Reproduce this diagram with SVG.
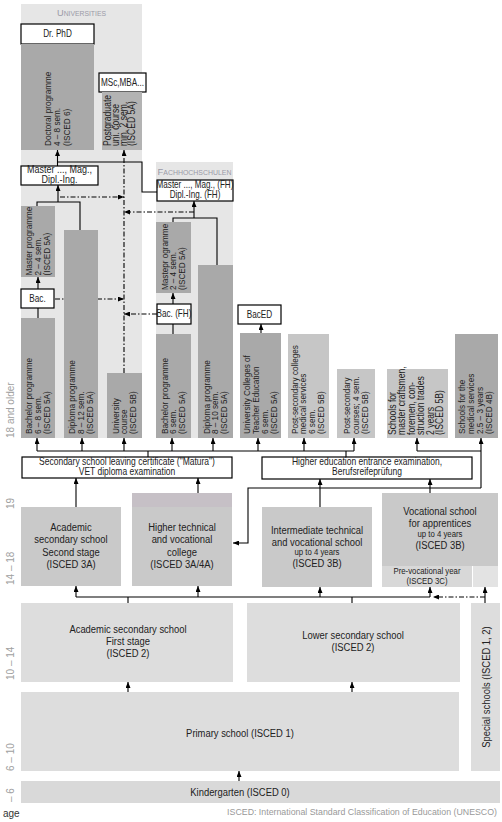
<svg xmlns="http://www.w3.org/2000/svg" width="502" height="822" viewBox="0 0 502 822">
<defs>
<marker id="ah" viewBox="0 0 6 5" refX="6" refY="2.5" markerWidth="6" markerHeight="5" markerUnits="userSpaceOnUse" orient="auto"><path d="M0,0 L6,2.5 L0,5 z" fill="#000"/></marker>
<style>
.panel{fill:#e6e6e6}
.bar{fill:#a9a9a9}
.pg{fill:#b3b3b3}
.ps{fill:#c6c6c6}
.sec{fill:#c9c9c9}
.low{fill:#dddddd}
.box{fill:#fff;stroke:#000;stroke-width:1.2}
.t{font-family:"Liberation Sans",Arial,sans-serif;fill:#222;font-size:10px}
.r{font-size:9.5px}
.tm{text-anchor:middle}
.big{font-size:11.5px}
.sm{font-size:9.5px}
.c{stroke:#000;stroke-width:1.1;fill:none}
.a{marker-end:url(#ah)}
.dd{stroke-dasharray:5 2 1.5 2}
.age{font-family:"Liberation Sans",Arial,sans-serif;font-size:10px;fill:#a0a0a0}
.lab{font-family:"Liberation Sans",Arial,sans-serif;fill:#9a9aa6}
</style>
</defs>

<g id="panels">
<rect class="panel" x="21" y="4" width="121" height="434"/>
<text class="lab" x="57" y="15.5" textLength="49" lengthAdjust="spacingAndGlyphs"><tspan font-size="9.5">U</tspan><tspan font-size="7">NIVERSITIES</tspan></text>
<rect class="panel" x="156" y="162" width="77" height="276"/>
<text class="lab" x="157.5" y="174.5" textLength="74" lengthAdjust="spacingAndGlyphs"><tspan font-size="9.5">F</tspan><tspan font-size="7">ACHHOCHSCHULEN</tspan></text>
</g>

<g id="connectors">
<path class="c a" d="M57.5,166 V150"/>
<path class="c" d="M57.5,162 H142 V192 H157"/>
<path class="c a" d="M58,202 V185"/>
<path class="c" d="M37,206 V202 H80 V230"/>
<path class="c a" d="M38,289 V277"/>
<path class="c" d="M38,308 V318"/>
<path class="c a" d="M194,218 V201"/>
<path class="c" d="M173,222 V218 H217 V265"/>
<path class="c a" d="M173,304 V293"/>
<path class="c" d="M173,324 V334"/>
<path class="c a" d="M261,333 V324"/>
<path class="c" d="M37,451 H354 M148,457 V451 M346,457 V451"/>
<path class="c a" d="M37,451 V438"/>
<path class="c a" d="M82,451 V438"/>
<path class="c a" d="M124,451 V438"/>
<path class="c a" d="M172,451 V438"/>
<path class="c a" d="M213,451 V438"/>
<path class="c a" d="M258,451 V438"/>
<path class="c a" d="M304,451 V438"/>
<path class="c a" d="M354,451 V438"/>
<path class="c a" d="M417,451 V438"/>
<path class="c" d="M417,451 H481"/>
<path class="c a" d="M481,488 V438"/>
<path class="c a" d="M481,488 H248 V543 H233"/>
<path class="c a" d="M76,507 V478"/>
<path class="c a" d="M198,493 V478"/>
<path class="c a" d="M320,507 V479"/>
<path class="c a" d="M430,493 V479"/>
<path class="c" d="M76,597 H430 M128,603 V597 M352,603 V597"/>
<path class="c a" d="M76,597 V586"/>
<path class="c a" d="M198,597 V586"/>
<path class="c a" d="M320,597 V587"/>
<path class="c a" d="M430,597 V587"/>
<path class="c a" d="M485,603 V587"/>
<path class="c a" d="M128,692 V682"/>
<path class="c a" d="M352,692 V682"/>
<path class="c a" d="M239,781 V771"/>
<path class="c a dd" d="M124,373 V150"/>
<path class="c a dd" d="M60,197 H124"/>
<path class="c a dd" d="M55,299 H124"/>
<path class="c a dd" d="M194,212 H124"/>
<path class="c a dd" d="M157,314 H124"/>
<path class="c a dd" d="M485,597 H433"/>
</g>

<g id="drphd"><rect class="box" x="21" y="24" width="73" height="20"/><text class="t tm" transform="translate(57.5,0) scale(0.82,1)" x="0" y="37.5">Dr. PhD</text></g>
<g id="doctoral"><rect class="bar" x="21" y="44" width="73" height="106"/>
<text class="t r" transform="translate(51,146) rotate(-90) scale(0.86,1)"><tspan x="0" y="0">Doctoral programme</tspan><tspan x="0" y="9.5">4 – 8 sem.</tspan><tspan x="0" y="19">(ISCED 6)</tspan></text></g>
<g id="msc"><rect class="box" x="99" y="73" width="47" height="19"/><text class="t tm" transform="translate(122.5,0) scale(0.82,1)" x="0" y="86">MSc,MBA...</text></g>
<g id="postgrad"><rect class="pg" x="102" y="92" width="40" height="58"/>
<text class="t" font-size="9" transform="translate(110.5,146) rotate(-90) scale(0.86,1)"><tspan x="0" y="0">Postgraduate</tspan><tspan x="0" y="8.3">uni. course</tspan><tspan x="0" y="16.6">min. 2 sem.</tspan><tspan x="0" y="24.9">(ISCED 5A)</tspan></text></g>
<g id="master-uni"><rect class="box" x="21" y="166" width="77" height="19"/><text class="t tm" font-size="7.4" transform="translate(59.5,0) scale(0.9,1)"><tspan x="0" y="172.9">Master ..., Mag.,</tspan><tspan x="0" y="183.2">Dipl.-Ing.</tspan></text></g>
<g id="master-prog"><rect class="bar" x="21" y="206" width="34" height="71"/>
<text class="t r" transform="translate(32,275.5) rotate(-90) scale(0.86,1)"><tspan x="0" y="0">Master programme</tspan><tspan x="0" y="9">2 – 4 sem.</tspan><tspan x="0" y="18">(ISCED 5A)</tspan></text></g>
<g id="bac"><rect class="box" x="21" y="289" width="33" height="19"/><text class="t tm" transform="translate(37.5,0) scale(0.82,1)" x="0" y="302">Bac.</text></g>
<g id="bachelor-uni"><rect class="bar" x="21" y="318" width="34" height="120"/>
<text class="t r" transform="translate(32,434) rotate(-90) scale(0.86,1)"><tspan x="0" y="0">Bachelor programme</tspan><tspan x="0" y="9">6 – 8 sem.</tspan><tspan x="0" y="18">(ISCED 5A)</tspan></text></g>
<g id="diploma-uni"><rect class="bar" x="64" y="230" width="34" height="208"/>
<text class="t r" transform="translate(75,434) rotate(-90) scale(0.86,1)"><tspan x="0" y="0">Diploma programme</tspan><tspan x="0" y="9">8 – 12 sem.</tspan><tspan x="0" y="18">(ISCED 5A)</tspan></text></g>
<g id="uni-course"><rect class="bar" x="107" y="373" width="35" height="65"/>
<text class="t r" transform="translate(118.5,434) rotate(-90) scale(0.86,1)"><tspan x="0" y="0">University</tspan><tspan x="0" y="9">course</tspan><tspan x="0" y="18">(ISCED 5B)</tspan></text></g>

<g id="master-fh"><rect class="box" x="157" y="180" width="76" height="21"/><text class="t tm" font-size="8.3" transform="translate(195,0) scale(0.81,1)"><tspan x="0" y="188.4">Master ..., Mag., (FH)</tspan><tspan x="0" y="197.8">Dipl.-Ing. (FH)</tspan></text></g>
<g id="master-prog-fh"><rect class="bar" x="156" y="222" width="35" height="71"/>
<text class="t r" transform="translate(167.5,290) rotate(-90) scale(0.86,1)"><tspan x="0" y="0">Mastepr ogramme</tspan><tspan x="0" y="9">2 – 4 sem.</tspan><tspan x="0" y="18">(ISCED 5A)</tspan></text></g>
<g id="bac-fh"><rect class="box" x="157" y="304" width="34" height="20"/><text class="t tm" transform="translate(174,0) scale(0.82,1)" x="0" y="317.5">Bac. (FH)</text></g>
<g id="bachelor-fh"><rect class="bar" x="156" y="334" width="35" height="104"/>
<text class="t r" transform="translate(167.5,434) rotate(-90) scale(0.86,1)"><tspan x="0" y="0">Bachelor programme</tspan><tspan x="0" y="9">6 sem.</tspan><tspan x="0" y="18">(ISCED 5A)</tspan></text></g>
<g id="diploma-fh"><rect class="bar" x="198" y="265" width="35" height="173"/>
<text class="t r" transform="translate(209.5,434) rotate(-90) scale(0.86,1)"><tspan x="0" y="0">Diploma programme</tspan><tspan x="0" y="9">8 – 10 sem.</tspan><tspan x="0" y="18">(ISCED 5A)</tspan></text></g>

<g id="baced"><rect class="box" x="238" y="305" width="43" height="19"/><text class="t tm" transform="translate(259.5,0) scale(0.82,1)" x="0" y="318">BacED</text></g>
<g id="uc-teacher"><rect class="bar" x="240" y="333" width="41" height="105"/>
<text class="t r" transform="translate(250,434) rotate(-90) scale(0.86,1)"><tspan x="0" y="0">University Colleges of</tspan><tspan x="0" y="9">Teacher Education</tspan><tspan x="0" y="18">6 sem.</tspan><tspan x="0" y="27">(ISCED 5A)</tspan></text></g>
<g id="ps-medical"><rect class="ps" x="288" y="334" width="41" height="104"/>
<text class="t r" transform="translate(297.5,434) rotate(-90) scale(0.86,1)"><tspan x="0" y="0">Post-secondary colleges</tspan><tspan x="0" y="9">medical services</tspan><tspan x="0" y="18">6 sem.</tspan><tspan x="0" y="27">(ISCED 5B)</tspan></text></g>
<g id="ps-courses"><rect class="ps" x="337" y="369" width="38" height="69"/>
<text class="t r" transform="translate(350,434) rotate(-90) scale(0.86,1)"><tspan x="0" y="0">Post-secondary</tspan><tspan x="0" y="9">courses; 4 sem.</tspan><tspan x="0" y="18">(ISCED 5B)</tspan></text></g>
<g id="craftsmen"><rect class="ps" x="387" y="369" width="61" height="69"/>
<text class="t" font-size="9" transform="translate(396,435) rotate(-90) scale(0.86,1)"><tspan x="0" y="0">Schools for</tspan><tspan x="0" y="9.5">master craftsmen,</tspan><tspan x="0" y="19">foremen, con-</tspan><tspan x="0" y="28.5">struction trades</tspan><tspan x="0" y="38">2 years</tspan><tspan x="0" y="47.5">(ISCED 5B)</tspan></text></g>
<g id="med-school"><rect class="bar" x="455" y="334" width="43" height="104"/>
<text class="t r" transform="translate(465,434) rotate(-90) scale(0.86,1)"><tspan x="0" y="0">Schools for the</tspan><tspan x="0" y="9">medical services</tspan><tspan x="0" y="18">2.5 – 3 years</tspan><tspan x="0" y="27">(ISCED 4B)</tspan></text></g>

<g id="matura"><rect class="box" x="22" y="457" width="210" height="21"/><text class="t tm" font-size="8" transform="translate(127,0) scale(0.85,1)"><tspan x="0" y="465.5">Secondary school leaving certificate ("Matura")</tspan><tspan x="0" y="475.5">VET diploma examination</tspan></text></g>
<g id="he-exam"><rect class="box" x="262" y="457" width="210" height="22"/><text class="t tm" font-size="8" transform="translate(367,0) scale(0.85,1)"><tspan x="0" y="465.5">Higher education entrance examination,</tspan><tspan x="0" y="475.5">Berufsreifeprüfung</tspan></text></g>

<g id="ahs-upper"><rect class="sec" x="21" y="507" width="100" height="79"/>
<text class="t tm big" transform="translate(71,0) scale(0.82,1)"><tspan x="0" y="531">Academic</tspan><tspan x="0" y="543.5">secondary school</tspan><tspan x="0" y="556">Second stage</tspan><tspan x="0" y="568.5">(ISCED 3A)</tspan></text></g>
<g id="htl"><rect fill="#c6c0c6" x="132" y="493" width="100" height="14"/><rect class="sec" x="132" y="507" width="100" height="79"/>
<text class="t tm big" transform="translate(182,0) scale(0.82,1)"><tspan x="0" y="531">Higher technical</tspan><tspan x="0" y="543.5">and vocational</tspan><tspan x="0" y="556">college</tspan><tspan x="0" y="568.5">(ISCED 3A/4A)</tspan></text></g>
<g id="intermediate"><rect class="sec" x="262" y="507" width="110" height="80"/>
<text class="t tm big" transform="translate(317,0) scale(0.82,1)"><tspan x="0" y="534">Intermediate technical</tspan><tspan x="0" y="546">and vocational school</tspan><tspan x="0" y="555.5" font-size="9.5">up to 4 years</tspan><tspan x="0" y="567.5">(ISCED 3B)</tspan></text></g>
<g id="vocational"><rect class="sec" x="382" y="493" width="116" height="73"/>
<text class="t tm big" transform="translate(440,0) scale(0.82,1)"><tspan x="0" y="515.5">Vocational school</tspan><tspan x="0" y="527">for apprentices</tspan><tspan x="0" y="537.5" font-size="9.5">up to 4 years</tspan><tspan x="0" y="549">(ISCED 3B)</tspan></text></g>
<g id="prevocational"><rect fill="#d8d8d8" x="382" y="566" width="90" height="21"/>
<text class="t tm sm" transform="translate(427,0) scale(0.82,1)"><tspan x="0" y="574.5">Pre-vocational year</tspan><tspan x="0" y="584">(ISCED 3C)</tspan></text></g>
<g id="prevoc-special"><rect fill="#e3e3e3" x="473" y="566" width="25" height="21"/></g>

<g id="ahs-lower"><rect class="low" x="21" y="603" width="212" height="79"/>
<text class="t tm big" transform="translate(128,0) scale(0.82,1)"><tspan x="0" y="633">Academic secondary school</tspan><tspan x="0" y="645.5">First stage</tspan><tspan x="0" y="657">(ISCED 2)</tspan></text></g>
<g id="lower-sec"><rect class="low" x="247" y="603" width="213" height="79"/>
<text class="t tm big" transform="translate(353,0) scale(0.82,1)"><tspan x="0" y="639">Lower secondary school</tspan><tspan x="0" y="651">(ISCED 2)</tspan></text></g>
<g id="special"><rect class="low" x="471" y="603" width="29" height="168"/>
<text class="t tm big" transform="translate(489.5,687) rotate(-90) scale(0.82,1)" x="0" y="0">Special schools (ISCED 1, 2)</text></g>
<g id="primary"><rect class="low" x="21" y="692" width="438" height="79"/>
<text class="t tm big" transform="translate(240,0) scale(0.82,1)" x="0" y="737">Primary school (ISCED 1)</text></g>
<g id="kindergarten"><rect fill="#d9d9d9" x="21" y="781" width="479" height="22"/>
<text class="t tm big" transform="translate(240,0) scale(0.82,1)" x="0" y="796">Kindergarten (ISCED 0)</text></g>

<g id="ages">
<text class="age" transform="translate(14,438) rotate(-90)">18 and older</text>
<text class="age" transform="translate(14,509) rotate(-90)">19</text>
<text class="age" transform="translate(14,585) rotate(-90)">14 – 18</text>
<text class="age" transform="translate(14,680) rotate(-90)">10 – 14</text>
<text class="age" transform="translate(14,771) rotate(-90)">6 – 10</text>
<text class="age" transform="translate(14,802) rotate(-90)">– 6</text>
<text x="3" y="817" font-family="'Liberation Sans',Arial,sans-serif" font-size="10" fill="#333">age</text>
<text x="497" y="815" text-anchor="end" font-family="'Liberation Sans',Arial,sans-serif" font-size="8.8" fill="#999">ISCED: International Standard Classification of Education (UNESCO)</text>
</g>
</svg>
